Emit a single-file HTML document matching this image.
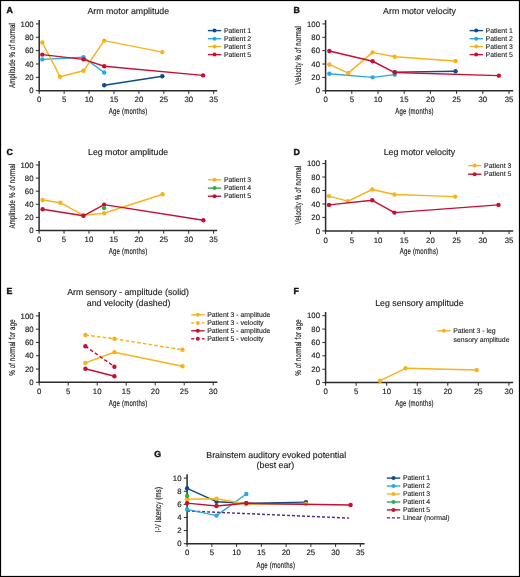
<!DOCTYPE html>
<html><head><meta charset="utf-8"><style>html,body{margin:0;padding:0;background:#fff;width:520px;height:577px;overflow:hidden;position:relative}</style></head>
<body>
<svg width="520" height="577" viewBox="0 0 520 577" style="position:absolute;left:0;top:0;will-change:transform">
<g style="font-family:&quot;Liberation Sans&quot;, sans-serif" text-rendering="geometricPrecision">
<rect x="0" y="0" width="520" height="577" fill="#fff"/>
<text x="6.6" y="13.2" font-size="8.8" text-anchor="start" font-weight="bold" fill="#111"  stroke="#111" stroke-width="0.4">A</text>
<text x="128.3" y="14" font-size="8.8" text-anchor="middle" font-weight="normal" fill="#1e1e1e"  stroke="#1e1e1e" stroke-width="0.15">Arm motor amplitude</text>
<line x1="39.2" y1="20.1" x2="39.2" y2="91.45" stroke="#2b2b2b" stroke-width="1.5"/>
<line x1="38.45" y1="90.7" x2="217.2" y2="90.7" stroke="#2b2b2b" stroke-width="1.5"/>
<line x1="35.900000000000006" y1="90.7" x2="39.2" y2="90.7" stroke="#2b2b2b" stroke-width="1"/>
<text x="33.6" y="93.3" font-size="7.8" text-anchor="end" font-weight="normal" fill="#1e1e1e"  stroke="#1e1e1e" stroke-width="0.15">0</text>
<line x1="35.900000000000006" y1="77.34" x2="39.2" y2="77.34" stroke="#2b2b2b" stroke-width="1"/>
<text x="33.6" y="79.94" font-size="7.8" text-anchor="end" font-weight="normal" fill="#1e1e1e"  stroke="#1e1e1e" stroke-width="0.15">20</text>
<line x1="35.900000000000006" y1="63.98" x2="39.2" y2="63.98" stroke="#2b2b2b" stroke-width="1"/>
<text x="33.6" y="66.58" font-size="7.8" text-anchor="end" font-weight="normal" fill="#1e1e1e"  stroke="#1e1e1e" stroke-width="0.15">40</text>
<line x1="35.900000000000006" y1="50.61999999999999" x2="39.2" y2="50.61999999999999" stroke="#2b2b2b" stroke-width="1"/>
<text x="33.6" y="53.21999999999999" font-size="7.8" text-anchor="end" font-weight="normal" fill="#1e1e1e"  stroke="#1e1e1e" stroke-width="0.15">60</text>
<line x1="35.900000000000006" y1="37.25999999999999" x2="39.2" y2="37.25999999999999" stroke="#2b2b2b" stroke-width="1"/>
<text x="33.6" y="39.85999999999999" font-size="7.8" text-anchor="end" font-weight="normal" fill="#1e1e1e"  stroke="#1e1e1e" stroke-width="0.15">80</text>
<line x1="35.900000000000006" y1="23.89999999999999" x2="39.2" y2="23.89999999999999" stroke="#2b2b2b" stroke-width="1"/>
<text x="33.6" y="26.499999999999993" font-size="7.8" text-anchor="end" font-weight="normal" fill="#1e1e1e"  stroke="#1e1e1e" stroke-width="0.15">100</text>
<line x1="39.2" y1="90.7" x2="39.2" y2="93.9" stroke="#2b2b2b" stroke-width="1"/>
<text x="39.2" y="102.4" font-size="7.8" text-anchor="middle" font-weight="normal" fill="#1e1e1e"  stroke="#1e1e1e" stroke-width="0.15">0</text>
<line x1="64.13" y1="90.7" x2="64.13" y2="93.9" stroke="#2b2b2b" stroke-width="1"/>
<text x="64.13" y="102.4" font-size="7.8" text-anchor="middle" font-weight="normal" fill="#1e1e1e"  stroke="#1e1e1e" stroke-width="0.15">5</text>
<line x1="89.06" y1="90.7" x2="89.06" y2="93.9" stroke="#2b2b2b" stroke-width="1"/>
<text x="89.06" y="102.4" font-size="7.8" text-anchor="middle" font-weight="normal" fill="#1e1e1e"  stroke="#1e1e1e" stroke-width="0.15">10</text>
<line x1="113.99" y1="90.7" x2="113.99" y2="93.9" stroke="#2b2b2b" stroke-width="1"/>
<text x="113.99" y="102.4" font-size="7.8" text-anchor="middle" font-weight="normal" fill="#1e1e1e"  stroke="#1e1e1e" stroke-width="0.15">15</text>
<line x1="138.92000000000002" y1="90.7" x2="138.92000000000002" y2="93.9" stroke="#2b2b2b" stroke-width="1"/>
<text x="138.92000000000002" y="102.4" font-size="7.8" text-anchor="middle" font-weight="normal" fill="#1e1e1e"  stroke="#1e1e1e" stroke-width="0.15">20</text>
<line x1="163.85000000000002" y1="90.7" x2="163.85000000000002" y2="93.9" stroke="#2b2b2b" stroke-width="1"/>
<text x="163.85000000000002" y="102.4" font-size="7.8" text-anchor="middle" font-weight="normal" fill="#1e1e1e"  stroke="#1e1e1e" stroke-width="0.15">25</text>
<line x1="188.77999999999997" y1="90.7" x2="188.77999999999997" y2="93.9" stroke="#2b2b2b" stroke-width="1"/>
<text x="188.77999999999997" y="102.4" font-size="7.8" text-anchor="middle" font-weight="normal" fill="#1e1e1e"  stroke="#1e1e1e" stroke-width="0.15">30</text>
<line x1="213.70999999999998" y1="90.7" x2="213.70999999999998" y2="93.9" stroke="#2b2b2b" stroke-width="1"/>
<text x="213.70999999999998" y="102.4" font-size="7.8" text-anchor="middle" font-weight="normal" fill="#1e1e1e"  stroke="#1e1e1e" stroke-width="0.15">35</text>
<text transform="translate(14.5,55.45) rotate(-90) scale(0.7,1)" x="0" y="0" font-size="8.6" letter-spacing="0.3" text-anchor="middle" fill="#1e1e1e" stroke="#1e1e1e" stroke-width="0.18">Amplitude % of normal</text>
<text transform="translate(128.15,114.3) scale(0.7,1)" x="0" y="0" font-size="8.6" letter-spacing="0.3" text-anchor="middle" fill="#1e1e1e" stroke="#1e1e1e" stroke-width="0.18">Age (months)</text>
<g transform="translate(0,0.4)">
<polyline points="104.2,84.8 162.3,75.8" fill="none" stroke="#0f4c86" stroke-width="1.45" stroke-linejoin="round"/>
<circle cx="104.2" cy="84.8" r="2.2" fill="#0f4c86"/>
<circle cx="162.3" cy="75.8" r="2.2" fill="#0f4c86"/>
<polyline points="42.3,59 83.5,56.9 104.2,72.1" fill="none" stroke="#2aa9e0" stroke-width="1.45" stroke-linejoin="round"/>
<circle cx="42.3" cy="59" r="2.2" fill="#2aa9e0"/>
<circle cx="83.5" cy="56.9" r="2.2" fill="#2aa9e0"/>
<circle cx="104.2" cy="72.1" r="2.2" fill="#2aa9e0"/>
<polyline points="42.3,42.1 60,76.3 83.5,70.4 104.2,40.2 162.3,51.7" fill="none" stroke="#f8b31b" stroke-width="1.45" stroke-linejoin="round"/>
<circle cx="42.3" cy="42.1" r="2.2" fill="#f8b31b"/>
<circle cx="60" cy="76.3" r="2.2" fill="#f8b31b"/>
<circle cx="83.5" cy="70.4" r="2.2" fill="#f8b31b"/>
<circle cx="104.2" cy="40.2" r="2.2" fill="#f8b31b"/>
<circle cx="162.3" cy="51.7" r="2.2" fill="#f8b31b"/>
<polyline points="42.3,54.2 83.5,59 104.2,65.8 203.1,75" fill="none" stroke="#c70f33" stroke-width="1.45" stroke-linejoin="round"/>
<circle cx="42.3" cy="54.2" r="2.2" fill="#c70f33"/>
<circle cx="83.5" cy="59" r="2.2" fill="#c70f33"/>
<circle cx="104.2" cy="65.8" r="2.2" fill="#c70f33"/>
<circle cx="203.1" cy="75" r="2.2" fill="#c70f33"/>
</g>
<line x1="207.9" y1="30.6" x2="221.20000000000002" y2="30.6" stroke="#0f4c86" stroke-width="1.4"/>
<circle cx="214.5" cy="30.6" r="2.0" fill="#0f4c86"/>
<text x="223.9" y="32.75" font-size="6.9" text-anchor="start" font-weight="normal" fill="#1e1e1e"  stroke="#1e1e1e" stroke-width="0.12">Patient 1</text>
<line x1="207.9" y1="38.7" x2="221.20000000000002" y2="38.7" stroke="#2aa9e0" stroke-width="1.4"/>
<circle cx="214.5" cy="38.7" r="2.0" fill="#2aa9e0"/>
<text x="223.9" y="40.85" font-size="6.9" text-anchor="start" font-weight="normal" fill="#1e1e1e"  stroke="#1e1e1e" stroke-width="0.12">Patient 2</text>
<line x1="207.9" y1="46.5" x2="221.20000000000002" y2="46.5" stroke="#f8b31b" stroke-width="1.4"/>
<circle cx="214.5" cy="46.5" r="2.0" fill="#f8b31b"/>
<text x="223.9" y="48.65" font-size="6.9" text-anchor="start" font-weight="normal" fill="#1e1e1e"  stroke="#1e1e1e" stroke-width="0.12">Patient 3</text>
<line x1="207.9" y1="54.6" x2="221.20000000000002" y2="54.6" stroke="#c70f33" stroke-width="1.4"/>
<circle cx="214.5" cy="54.6" r="2.0" fill="#c70f33"/>
<text x="223.9" y="56.75" font-size="6.9" text-anchor="start" font-weight="normal" fill="#1e1e1e"  stroke="#1e1e1e" stroke-width="0.12">Patient 5</text>
<text x="293.5" y="13.2" font-size="8.8" text-anchor="start" font-weight="bold" fill="#111"  stroke="#111" stroke-width="0.4">B</text>
<text x="419.5" y="14" font-size="8.8" text-anchor="middle" font-weight="normal" fill="#1e1e1e"  stroke="#1e1e1e" stroke-width="0.15">Arm motor velocity</text>
<line x1="325.6" y1="20.1" x2="325.6" y2="91.5" stroke="#2b2b2b" stroke-width="1.5"/>
<line x1="324.85" y1="90.75" x2="513.2" y2="90.75" stroke="#2b2b2b" stroke-width="1.5"/>
<line x1="322.3" y1="90.75" x2="325.6" y2="90.75" stroke="#2b2b2b" stroke-width="1"/>
<text x="320.0" y="93.35" font-size="7.8" text-anchor="end" font-weight="normal" fill="#1e1e1e"  stroke="#1e1e1e" stroke-width="0.15">0</text>
<line x1="322.3" y1="77.38" x2="325.6" y2="77.38" stroke="#2b2b2b" stroke-width="1"/>
<text x="320.0" y="79.97999999999999" font-size="7.8" text-anchor="end" font-weight="normal" fill="#1e1e1e"  stroke="#1e1e1e" stroke-width="0.15">20</text>
<line x1="322.3" y1="64.01" x2="325.6" y2="64.01" stroke="#2b2b2b" stroke-width="1"/>
<text x="320.0" y="66.61" font-size="7.8" text-anchor="end" font-weight="normal" fill="#1e1e1e"  stroke="#1e1e1e" stroke-width="0.15">40</text>
<line x1="322.3" y1="50.64000000000001" x2="325.6" y2="50.64000000000001" stroke="#2b2b2b" stroke-width="1"/>
<text x="320.0" y="53.24000000000001" font-size="7.8" text-anchor="end" font-weight="normal" fill="#1e1e1e"  stroke="#1e1e1e" stroke-width="0.15">60</text>
<line x1="322.3" y1="37.27" x2="325.6" y2="37.27" stroke="#2b2b2b" stroke-width="1"/>
<text x="320.0" y="39.870000000000005" font-size="7.8" text-anchor="end" font-weight="normal" fill="#1e1e1e"  stroke="#1e1e1e" stroke-width="0.15">80</text>
<line x1="322.3" y1="23.900000000000006" x2="325.6" y2="23.900000000000006" stroke="#2b2b2b" stroke-width="1"/>
<text x="320.0" y="26.500000000000007" font-size="7.8" text-anchor="end" font-weight="normal" fill="#1e1e1e"  stroke="#1e1e1e" stroke-width="0.15">100</text>
<line x1="325.6" y1="90.75" x2="325.6" y2="93.95" stroke="#2b2b2b" stroke-width="1"/>
<text x="325.6" y="102.45" font-size="7.8" text-anchor="middle" font-weight="normal" fill="#1e1e1e"  stroke="#1e1e1e" stroke-width="0.15">0</text>
<line x1="351.8" y1="90.75" x2="351.8" y2="93.95" stroke="#2b2b2b" stroke-width="1"/>
<text x="351.8" y="102.45" font-size="7.8" text-anchor="middle" font-weight="normal" fill="#1e1e1e"  stroke="#1e1e1e" stroke-width="0.15">5</text>
<line x1="378.0" y1="90.75" x2="378.0" y2="93.95" stroke="#2b2b2b" stroke-width="1"/>
<text x="378.0" y="102.45" font-size="7.8" text-anchor="middle" font-weight="normal" fill="#1e1e1e"  stroke="#1e1e1e" stroke-width="0.15">10</text>
<line x1="404.20000000000005" y1="90.75" x2="404.20000000000005" y2="93.95" stroke="#2b2b2b" stroke-width="1"/>
<text x="404.20000000000005" y="102.45" font-size="7.8" text-anchor="middle" font-weight="normal" fill="#1e1e1e"  stroke="#1e1e1e" stroke-width="0.15">15</text>
<line x1="430.40000000000003" y1="90.75" x2="430.40000000000003" y2="93.95" stroke="#2b2b2b" stroke-width="1"/>
<text x="430.40000000000003" y="102.45" font-size="7.8" text-anchor="middle" font-weight="normal" fill="#1e1e1e"  stroke="#1e1e1e" stroke-width="0.15">20</text>
<line x1="456.6" y1="90.75" x2="456.6" y2="93.95" stroke="#2b2b2b" stroke-width="1"/>
<text x="456.6" y="102.45" font-size="7.8" text-anchor="middle" font-weight="normal" fill="#1e1e1e"  stroke="#1e1e1e" stroke-width="0.15">25</text>
<line x1="482.8" y1="90.75" x2="482.8" y2="93.95" stroke="#2b2b2b" stroke-width="1"/>
<text x="482.8" y="102.45" font-size="7.8" text-anchor="middle" font-weight="normal" fill="#1e1e1e"  stroke="#1e1e1e" stroke-width="0.15">30</text>
<line x1="509.0" y1="90.75" x2="509.0" y2="93.95" stroke="#2b2b2b" stroke-width="1"/>
<text x="509.0" y="102.45" font-size="7.8" text-anchor="middle" font-weight="normal" fill="#1e1e1e"  stroke="#1e1e1e" stroke-width="0.15">35</text>
<text transform="translate(300.7,55.35) rotate(-90) scale(0.7,1)" x="0" y="0" font-size="8.6" letter-spacing="0.3" text-anchor="middle" fill="#1e1e1e" stroke="#1e1e1e" stroke-width="0.18">Velocity % of normal</text>
<text transform="translate(414.5,114.3) scale(0.7,1)" x="0" y="0" font-size="8.6" letter-spacing="0.3" text-anchor="middle" fill="#1e1e1e" stroke="#1e1e1e" stroke-width="0.18">Age (months)</text>
<g transform="translate(0.35,0.25)">
<polyline points="394.4,71.9 455.2,71" fill="none" stroke="#0f4c86" stroke-width="1.45" stroke-linejoin="round"/>
<circle cx="394.4" cy="71.9" r="2.2" fill="#0f4c86"/>
<circle cx="455.2" cy="71" r="2.2" fill="#0f4c86"/>
<polyline points="329,73.5 372.3,77.1 394.4,74.4" fill="none" stroke="#2aa9e0" stroke-width="1.45" stroke-linejoin="round"/>
<circle cx="329" cy="73.5" r="2.2" fill="#2aa9e0"/>
<circle cx="372.3" cy="77.1" r="2.2" fill="#2aa9e0"/>
<circle cx="394.4" cy="74.4" r="2.2" fill="#2aa9e0"/>
<polyline points="329,64.2 347.9,72.9 372.3,52.1 394.4,56.5 455.2,60.8" fill="none" stroke="#f8b31b" stroke-width="1.45" stroke-linejoin="round"/>
<circle cx="329" cy="64.2" r="2.2" fill="#f8b31b"/>
<circle cx="347.9" cy="72.9" r="2.2" fill="#f8b31b"/>
<circle cx="372.3" cy="52.1" r="2.2" fill="#f8b31b"/>
<circle cx="394.4" cy="56.5" r="2.2" fill="#f8b31b"/>
<circle cx="455.2" cy="60.8" r="2.2" fill="#f8b31b"/>
<polyline points="329,50.8 372.3,61 394.4,72.3 498.5,75.4" fill="none" stroke="#c70f33" stroke-width="1.45" stroke-linejoin="round"/>
<circle cx="329" cy="50.8" r="2.2" fill="#c70f33"/>
<circle cx="372.3" cy="61" r="2.2" fill="#c70f33"/>
<circle cx="394.4" cy="72.3" r="2.2" fill="#c70f33"/>
<circle cx="498.5" cy="75.4" r="2.2" fill="#c70f33"/>
</g>
<line x1="469.6" y1="30.6" x2="482.90000000000003" y2="30.6" stroke="#0f4c86" stroke-width="1.4"/>
<circle cx="476.20000000000005" cy="30.6" r="2.0" fill="#0f4c86"/>
<text x="485.6" y="32.75" font-size="6.9" text-anchor="start" font-weight="normal" fill="#1e1e1e"  stroke="#1e1e1e" stroke-width="0.12">Patient 1</text>
<line x1="469.6" y1="38.7" x2="482.90000000000003" y2="38.7" stroke="#2aa9e0" stroke-width="1.4"/>
<circle cx="476.20000000000005" cy="38.7" r="2.0" fill="#2aa9e0"/>
<text x="485.6" y="40.85" font-size="6.9" text-anchor="start" font-weight="normal" fill="#1e1e1e"  stroke="#1e1e1e" stroke-width="0.12">Patient 2</text>
<line x1="469.6" y1="46.5" x2="482.90000000000003" y2="46.5" stroke="#f8b31b" stroke-width="1.4"/>
<circle cx="476.20000000000005" cy="46.5" r="2.0" fill="#f8b31b"/>
<text x="485.6" y="48.65" font-size="6.9" text-anchor="start" font-weight="normal" fill="#1e1e1e"  stroke="#1e1e1e" stroke-width="0.12">Patient 3</text>
<line x1="469.6" y1="54.6" x2="482.90000000000003" y2="54.6" stroke="#c70f33" stroke-width="1.4"/>
<circle cx="476.20000000000005" cy="54.6" r="2.0" fill="#c70f33"/>
<text x="485.6" y="56.75" font-size="6.9" text-anchor="start" font-weight="normal" fill="#1e1e1e"  stroke="#1e1e1e" stroke-width="0.12">Patient 5</text>
<text x="6.6" y="155" font-size="8.8" text-anchor="start" font-weight="bold" fill="#111"  stroke="#111" stroke-width="0.4">C</text>
<text x="128.1" y="155" font-size="8.8" text-anchor="middle" font-weight="normal" fill="#1e1e1e"  stroke="#1e1e1e" stroke-width="0.15">Leg motor amplitude</text>
<line x1="39.1" y1="161" x2="39.1" y2="231.25" stroke="#2b2b2b" stroke-width="1.5"/>
<line x1="38.35" y1="230.5" x2="217.2" y2="230.5" stroke="#2b2b2b" stroke-width="1.5"/>
<line x1="35.800000000000004" y1="230.5" x2="39.1" y2="230.5" stroke="#2b2b2b" stroke-width="1"/>
<text x="33.5" y="233.1" font-size="7.8" text-anchor="end" font-weight="normal" fill="#1e1e1e"  stroke="#1e1e1e" stroke-width="0.15">0</text>
<line x1="35.800000000000004" y1="217.4" x2="39.1" y2="217.4" stroke="#2b2b2b" stroke-width="1"/>
<text x="33.5" y="220.0" font-size="7.8" text-anchor="end" font-weight="normal" fill="#1e1e1e"  stroke="#1e1e1e" stroke-width="0.15">20</text>
<line x1="35.800000000000004" y1="204.3" x2="39.1" y2="204.3" stroke="#2b2b2b" stroke-width="1"/>
<text x="33.5" y="206.9" font-size="7.8" text-anchor="end" font-weight="normal" fill="#1e1e1e"  stroke="#1e1e1e" stroke-width="0.15">40</text>
<line x1="35.800000000000004" y1="191.2" x2="39.1" y2="191.2" stroke="#2b2b2b" stroke-width="1"/>
<text x="33.5" y="193.79999999999998" font-size="7.8" text-anchor="end" font-weight="normal" fill="#1e1e1e"  stroke="#1e1e1e" stroke-width="0.15">60</text>
<line x1="35.800000000000004" y1="178.1" x2="39.1" y2="178.1" stroke="#2b2b2b" stroke-width="1"/>
<text x="33.5" y="180.7" font-size="7.8" text-anchor="end" font-weight="normal" fill="#1e1e1e"  stroke="#1e1e1e" stroke-width="0.15">80</text>
<line x1="35.800000000000004" y1="165.0" x2="39.1" y2="165.0" stroke="#2b2b2b" stroke-width="1"/>
<text x="33.5" y="167.6" font-size="7.8" text-anchor="end" font-weight="normal" fill="#1e1e1e"  stroke="#1e1e1e" stroke-width="0.15">100</text>
<line x1="39.1" y1="230.5" x2="39.1" y2="233.7" stroke="#2b2b2b" stroke-width="1"/>
<text x="39.1" y="242.2" font-size="7.8" text-anchor="middle" font-weight="normal" fill="#1e1e1e"  stroke="#1e1e1e" stroke-width="0.15">0</text>
<line x1="64.03" y1="230.5" x2="64.03" y2="233.7" stroke="#2b2b2b" stroke-width="1"/>
<text x="64.03" y="242.2" font-size="7.8" text-anchor="middle" font-weight="normal" fill="#1e1e1e"  stroke="#1e1e1e" stroke-width="0.15">5</text>
<line x1="88.96000000000001" y1="230.5" x2="88.96000000000001" y2="233.7" stroke="#2b2b2b" stroke-width="1"/>
<text x="88.96000000000001" y="242.2" font-size="7.8" text-anchor="middle" font-weight="normal" fill="#1e1e1e"  stroke="#1e1e1e" stroke-width="0.15">10</text>
<line x1="113.88999999999999" y1="230.5" x2="113.88999999999999" y2="233.7" stroke="#2b2b2b" stroke-width="1"/>
<text x="113.88999999999999" y="242.2" font-size="7.8" text-anchor="middle" font-weight="normal" fill="#1e1e1e"  stroke="#1e1e1e" stroke-width="0.15">15</text>
<line x1="138.82" y1="230.5" x2="138.82" y2="233.7" stroke="#2b2b2b" stroke-width="1"/>
<text x="138.82" y="242.2" font-size="7.8" text-anchor="middle" font-weight="normal" fill="#1e1e1e"  stroke="#1e1e1e" stroke-width="0.15">20</text>
<line x1="163.75" y1="230.5" x2="163.75" y2="233.7" stroke="#2b2b2b" stroke-width="1"/>
<text x="163.75" y="242.2" font-size="7.8" text-anchor="middle" font-weight="normal" fill="#1e1e1e"  stroke="#1e1e1e" stroke-width="0.15">25</text>
<line x1="188.67999999999998" y1="230.5" x2="188.67999999999998" y2="233.7" stroke="#2b2b2b" stroke-width="1"/>
<text x="188.67999999999998" y="242.2" font-size="7.8" text-anchor="middle" font-weight="normal" fill="#1e1e1e"  stroke="#1e1e1e" stroke-width="0.15">30</text>
<line x1="213.60999999999999" y1="230.5" x2="213.60999999999999" y2="233.7" stroke="#2b2b2b" stroke-width="1"/>
<text x="213.60999999999999" y="242.2" font-size="7.8" text-anchor="middle" font-weight="normal" fill="#1e1e1e"  stroke="#1e1e1e" stroke-width="0.15">35</text>
<text transform="translate(14.5,196.05) rotate(-90) scale(0.7,1)" x="0" y="0" font-size="8.6" letter-spacing="0.3" text-anchor="middle" fill="#1e1e1e" stroke="#1e1e1e" stroke-width="0.18">Amplitude % of normal</text>
<text transform="translate(128.15,254.3) scale(0.7,1)" x="0" y="0" font-size="8.6" letter-spacing="0.3" text-anchor="middle" fill="#1e1e1e" stroke="#1e1e1e" stroke-width="0.18">Age (months)</text>
<g transform="translate(0.3,0)">
<polyline points="42.3,200 60,202.7 83.1,215.4 103.8,213.3 162.3,194.2" fill="none" stroke="#f8b31b" stroke-width="1.45" stroke-linejoin="round"/>
<circle cx="42.3" cy="200" r="2.2" fill="#f8b31b"/>
<circle cx="60" cy="202.7" r="2.2" fill="#f8b31b"/>
<circle cx="83.1" cy="215.4" r="2.2" fill="#f8b31b"/>
<circle cx="103.8" cy="213.3" r="2.2" fill="#f8b31b"/>
<circle cx="162.3" cy="194.2" r="2.2" fill="#f8b31b"/>
<polyline points="42.3,209.2 83.1,215.8 103.8,204.6 203.1,220.2" fill="none" stroke="#c70f33" stroke-width="1.45" stroke-linejoin="round"/>
<circle cx="42.3" cy="209.2" r="2.2" fill="#c70f33"/>
<circle cx="83.1" cy="215.8" r="2.2" fill="#c70f33"/>
<circle cx="103.8" cy="204.6" r="2.2" fill="#c70f33"/>
<circle cx="203.1" cy="220.2" r="2.2" fill="#c70f33"/>
<circle cx="103.8" cy="208.1" r="2.2" fill="#2bb04a"/>
</g>
<line x1="207.9" y1="179.8" x2="221.20000000000002" y2="179.8" stroke="#f8b31b" stroke-width="1.4"/>
<circle cx="214.5" cy="179.8" r="2.0" fill="#f8b31b"/>
<text x="223.9" y="181.95000000000002" font-size="6.9" text-anchor="start" font-weight="normal" fill="#1e1e1e"  stroke="#1e1e1e" stroke-width="0.12">Patient 3</text>
<line x1="207.9" y1="188.1" x2="221.20000000000002" y2="188.1" stroke="#2bb04a" stroke-width="1.4"/>
<circle cx="214.5" cy="188.1" r="2.0" fill="#2bb04a"/>
<text x="223.9" y="190.25" font-size="6.9" text-anchor="start" font-weight="normal" fill="#1e1e1e"  stroke="#1e1e1e" stroke-width="0.12">Patient 4</text>
<line x1="207.9" y1="196.2" x2="221.20000000000002" y2="196.2" stroke="#c70f33" stroke-width="1.4"/>
<circle cx="214.5" cy="196.2" r="2.0" fill="#c70f33"/>
<text x="223.9" y="198.35" font-size="6.9" text-anchor="start" font-weight="normal" fill="#1e1e1e"  stroke="#1e1e1e" stroke-width="0.12">Patient 5</text>
<text x="293.5" y="155" font-size="8.8" text-anchor="start" font-weight="bold" fill="#111"  stroke="#111" stroke-width="0.4">D</text>
<text x="419.4" y="155" font-size="8.8" text-anchor="middle" font-weight="normal" fill="#1e1e1e"  stroke="#1e1e1e" stroke-width="0.15">Leg motor velocity</text>
<line x1="325.6" y1="160" x2="325.6" y2="231.65" stroke="#2b2b2b" stroke-width="1.5"/>
<line x1="324.85" y1="230.9" x2="513.2" y2="230.9" stroke="#2b2b2b" stroke-width="1.5"/>
<line x1="322.3" y1="230.9" x2="325.6" y2="230.9" stroke="#2b2b2b" stroke-width="1"/>
<text x="320.0" y="233.5" font-size="7.8" text-anchor="end" font-weight="normal" fill="#1e1e1e"  stroke="#1e1e1e" stroke-width="0.15">0</text>
<line x1="322.3" y1="217.44" x2="325.6" y2="217.44" stroke="#2b2b2b" stroke-width="1"/>
<text x="320.0" y="220.04" font-size="7.8" text-anchor="end" font-weight="normal" fill="#1e1e1e"  stroke="#1e1e1e" stroke-width="0.15">20</text>
<line x1="322.3" y1="203.98" x2="325.6" y2="203.98" stroke="#2b2b2b" stroke-width="1"/>
<text x="320.0" y="206.57999999999998" font-size="7.8" text-anchor="end" font-weight="normal" fill="#1e1e1e"  stroke="#1e1e1e" stroke-width="0.15">40</text>
<line x1="322.3" y1="190.51999999999998" x2="325.6" y2="190.51999999999998" stroke="#2b2b2b" stroke-width="1"/>
<text x="320.0" y="193.11999999999998" font-size="7.8" text-anchor="end" font-weight="normal" fill="#1e1e1e"  stroke="#1e1e1e" stroke-width="0.15">60</text>
<line x1="322.3" y1="177.06" x2="325.6" y2="177.06" stroke="#2b2b2b" stroke-width="1"/>
<text x="320.0" y="179.66" font-size="7.8" text-anchor="end" font-weight="normal" fill="#1e1e1e"  stroke="#1e1e1e" stroke-width="0.15">80</text>
<line x1="322.3" y1="163.6" x2="325.6" y2="163.6" stroke="#2b2b2b" stroke-width="1"/>
<text x="320.0" y="166.2" font-size="7.8" text-anchor="end" font-weight="normal" fill="#1e1e1e"  stroke="#1e1e1e" stroke-width="0.15">100</text>
<line x1="325.6" y1="230.9" x2="325.6" y2="234.1" stroke="#2b2b2b" stroke-width="1"/>
<text x="325.6" y="242.6" font-size="7.8" text-anchor="middle" font-weight="normal" fill="#1e1e1e"  stroke="#1e1e1e" stroke-width="0.15">0</text>
<line x1="351.8" y1="230.9" x2="351.8" y2="234.1" stroke="#2b2b2b" stroke-width="1"/>
<text x="351.8" y="242.6" font-size="7.8" text-anchor="middle" font-weight="normal" fill="#1e1e1e"  stroke="#1e1e1e" stroke-width="0.15">5</text>
<line x1="378.0" y1="230.9" x2="378.0" y2="234.1" stroke="#2b2b2b" stroke-width="1"/>
<text x="378.0" y="242.6" font-size="7.8" text-anchor="middle" font-weight="normal" fill="#1e1e1e"  stroke="#1e1e1e" stroke-width="0.15">10</text>
<line x1="404.20000000000005" y1="230.9" x2="404.20000000000005" y2="234.1" stroke="#2b2b2b" stroke-width="1"/>
<text x="404.20000000000005" y="242.6" font-size="7.8" text-anchor="middle" font-weight="normal" fill="#1e1e1e"  stroke="#1e1e1e" stroke-width="0.15">15</text>
<line x1="430.40000000000003" y1="230.9" x2="430.40000000000003" y2="234.1" stroke="#2b2b2b" stroke-width="1"/>
<text x="430.40000000000003" y="242.6" font-size="7.8" text-anchor="middle" font-weight="normal" fill="#1e1e1e"  stroke="#1e1e1e" stroke-width="0.15">20</text>
<line x1="456.6" y1="230.9" x2="456.6" y2="234.1" stroke="#2b2b2b" stroke-width="1"/>
<text x="456.6" y="242.6" font-size="7.8" text-anchor="middle" font-weight="normal" fill="#1e1e1e"  stroke="#1e1e1e" stroke-width="0.15">25</text>
<line x1="482.8" y1="230.9" x2="482.8" y2="234.1" stroke="#2b2b2b" stroke-width="1"/>
<text x="482.8" y="242.6" font-size="7.8" text-anchor="middle" font-weight="normal" fill="#1e1e1e"  stroke="#1e1e1e" stroke-width="0.15">30</text>
<line x1="509.0" y1="230.9" x2="509.0" y2="234.1" stroke="#2b2b2b" stroke-width="1"/>
<text x="509.0" y="242.6" font-size="7.8" text-anchor="middle" font-weight="normal" fill="#1e1e1e"  stroke="#1e1e1e" stroke-width="0.15">35</text>
<text transform="translate(300.7,195.1) rotate(-90) scale(0.7,1)" x="0" y="0" font-size="8.6" letter-spacing="0.3" text-anchor="middle" fill="#1e1e1e" stroke="#1e1e1e" stroke-width="0.18">Velocity % of normal</text>
<text transform="translate(419,254.3) scale(0.7,1)" x="0" y="0" font-size="8.6" letter-spacing="0.3" text-anchor="middle" fill="#1e1e1e" stroke="#1e1e1e" stroke-width="0.18">Age (months)</text>
<g transform="translate(0,0.3)">
<polyline points="329,195.8 347.9,200.8 372.3,189.2 394.4,194.2 455.2,196.3" fill="none" stroke="#f8b31b" stroke-width="1.45" stroke-linejoin="round"/>
<circle cx="329" cy="195.8" r="2.2" fill="#f8b31b"/>
<circle cx="347.9" cy="200.8" r="2.2" fill="#f8b31b"/>
<circle cx="372.3" cy="189.2" r="2.2" fill="#f8b31b"/>
<circle cx="394.4" cy="194.2" r="2.2" fill="#f8b31b"/>
<circle cx="455.2" cy="196.3" r="2.2" fill="#f8b31b"/>
<polyline points="329,204.6 372.3,200 394.4,212.3 498.5,204.6" fill="none" stroke="#c70f33" stroke-width="1.45" stroke-linejoin="round"/>
<circle cx="329" cy="204.6" r="2.2" fill="#c70f33"/>
<circle cx="372.3" cy="200" r="2.2" fill="#c70f33"/>
<circle cx="394.4" cy="212.3" r="2.2" fill="#c70f33"/>
<circle cx="498.5" cy="204.6" r="2.2" fill="#c70f33"/>
</g>
<line x1="468.1" y1="165.6" x2="481.40000000000003" y2="165.6" stroke="#f8b31b" stroke-width="1.4"/>
<circle cx="474.70000000000005" cy="165.6" r="2.0" fill="#f8b31b"/>
<text x="484.1" y="167.75" font-size="6.9" text-anchor="start" font-weight="normal" fill="#1e1e1e"  stroke="#1e1e1e" stroke-width="0.12">Patient 3</text>
<line x1="468.1" y1="174.2" x2="481.40000000000003" y2="174.2" stroke="#c70f33" stroke-width="1.4"/>
<circle cx="474.70000000000005" cy="174.2" r="2.0" fill="#c70f33"/>
<text x="484.1" y="176.35" font-size="6.9" text-anchor="start" font-weight="normal" fill="#1e1e1e"  stroke="#1e1e1e" stroke-width="0.12">Patient 5</text>
<text x="6.6" y="294" font-size="8.8" text-anchor="start" font-weight="bold" fill="#111"  stroke="#111" stroke-width="0.4">E</text>
<text x="128.1" y="294.9" font-size="8.8" text-anchor="middle" font-weight="normal" fill="#1e1e1e"  stroke="#1e1e1e" stroke-width="0.15">Arm sensory - amplitude (solid)</text>
<text x="128.6" y="305.7" font-size="8.8" text-anchor="middle" font-weight="normal" fill="#1e1e1e"  stroke="#1e1e1e" stroke-width="0.15">and velocity (dashed)</text>
<line x1="39.2" y1="312" x2="39.2" y2="383.05" stroke="#2b2b2b" stroke-width="1.5"/>
<line x1="38.45" y1="382.3" x2="217.4" y2="382.3" stroke="#2b2b2b" stroke-width="1.5"/>
<line x1="35.900000000000006" y1="382.3" x2="39.2" y2="382.3" stroke="#2b2b2b" stroke-width="1"/>
<text x="33.6" y="384.90000000000003" font-size="7.8" text-anchor="end" font-weight="normal" fill="#1e1e1e"  stroke="#1e1e1e" stroke-width="0.15">0</text>
<line x1="35.900000000000006" y1="369.02" x2="39.2" y2="369.02" stroke="#2b2b2b" stroke-width="1"/>
<text x="33.6" y="371.62" font-size="7.8" text-anchor="end" font-weight="normal" fill="#1e1e1e"  stroke="#1e1e1e" stroke-width="0.15">20</text>
<line x1="35.900000000000006" y1="355.74" x2="39.2" y2="355.74" stroke="#2b2b2b" stroke-width="1"/>
<text x="33.6" y="358.34000000000003" font-size="7.8" text-anchor="end" font-weight="normal" fill="#1e1e1e"  stroke="#1e1e1e" stroke-width="0.15">40</text>
<line x1="35.900000000000006" y1="342.46" x2="39.2" y2="342.46" stroke="#2b2b2b" stroke-width="1"/>
<text x="33.6" y="345.06" font-size="7.8" text-anchor="end" font-weight="normal" fill="#1e1e1e"  stroke="#1e1e1e" stroke-width="0.15">60</text>
<line x1="35.900000000000006" y1="329.18" x2="39.2" y2="329.18" stroke="#2b2b2b" stroke-width="1"/>
<text x="33.6" y="331.78000000000003" font-size="7.8" text-anchor="end" font-weight="normal" fill="#1e1e1e"  stroke="#1e1e1e" stroke-width="0.15">80</text>
<line x1="35.900000000000006" y1="315.9" x2="39.2" y2="315.9" stroke="#2b2b2b" stroke-width="1"/>
<text x="33.6" y="318.5" font-size="7.8" text-anchor="end" font-weight="normal" fill="#1e1e1e"  stroke="#1e1e1e" stroke-width="0.15">100</text>
<line x1="39.2" y1="382.3" x2="39.2" y2="385.5" stroke="#2b2b2b" stroke-width="1"/>
<text x="39.2" y="394.0" font-size="7.8" text-anchor="middle" font-weight="normal" fill="#1e1e1e"  stroke="#1e1e1e" stroke-width="0.15">0</text>
<line x1="68.2" y1="382.3" x2="68.2" y2="385.5" stroke="#2b2b2b" stroke-width="1"/>
<text x="68.2" y="394.0" font-size="7.8" text-anchor="middle" font-weight="normal" fill="#1e1e1e"  stroke="#1e1e1e" stroke-width="0.15">5</text>
<line x1="97.2" y1="382.3" x2="97.2" y2="385.5" stroke="#2b2b2b" stroke-width="1"/>
<text x="97.2" y="394.0" font-size="7.8" text-anchor="middle" font-weight="normal" fill="#1e1e1e"  stroke="#1e1e1e" stroke-width="0.15">10</text>
<line x1="126.2" y1="382.3" x2="126.2" y2="385.5" stroke="#2b2b2b" stroke-width="1"/>
<text x="126.2" y="394.0" font-size="7.8" text-anchor="middle" font-weight="normal" fill="#1e1e1e"  stroke="#1e1e1e" stroke-width="0.15">15</text>
<line x1="155.2" y1="382.3" x2="155.2" y2="385.5" stroke="#2b2b2b" stroke-width="1"/>
<text x="155.2" y="394.0" font-size="7.8" text-anchor="middle" font-weight="normal" fill="#1e1e1e"  stroke="#1e1e1e" stroke-width="0.15">20</text>
<line x1="184.2" y1="382.3" x2="184.2" y2="385.5" stroke="#2b2b2b" stroke-width="1"/>
<text x="184.2" y="394.0" font-size="7.8" text-anchor="middle" font-weight="normal" fill="#1e1e1e"  stroke="#1e1e1e" stroke-width="0.15">25</text>
<line x1="213.2" y1="382.3" x2="213.2" y2="385.5" stroke="#2b2b2b" stroke-width="1"/>
<text x="213.2" y="394.0" font-size="7.8" text-anchor="middle" font-weight="normal" fill="#1e1e1e"  stroke="#1e1e1e" stroke-width="0.15">30</text>
<text transform="translate(14.5,347.5) rotate(-90) scale(0.7,1)" x="0" y="0" font-size="8.6" letter-spacing="0.3" text-anchor="middle" fill="#1e1e1e" stroke="#1e1e1e" stroke-width="0.18">% of normal for age</text>
<text transform="translate(128.15,406.3) scale(0.7,1)" x="0" y="0" font-size="8.6" letter-spacing="0.3" text-anchor="middle" fill="#1e1e1e" stroke="#1e1e1e" stroke-width="0.18">Age (months)</text>
<polyline points="85.4,335 114.4,338.8 182.5,349.8" fill="none" stroke="#f8b31b" stroke-width="1.45" stroke-linejoin="round" stroke-dasharray="3.6,2.2"/>
<circle cx="85.4" cy="335" r="2.2" fill="#f8b31b"/>
<circle cx="114.4" cy="338.8" r="2.2" fill="#f8b31b"/>
<circle cx="182.5" cy="349.8" r="2.2" fill="#f8b31b"/>
<polyline points="85.4,362.9 114.4,352.3 182.5,366.2" fill="none" stroke="#f8b31b" stroke-width="1.45" stroke-linejoin="round"/>
<circle cx="85.4" cy="362.9" r="2.2" fill="#f8b31b"/>
<circle cx="114.4" cy="352.3" r="2.2" fill="#f8b31b"/>
<circle cx="182.5" cy="366.2" r="2.2" fill="#f8b31b"/>
<polyline points="85.4,346.2 114.4,366.7" fill="none" stroke="#c70f33" stroke-width="1.45" stroke-linejoin="round" stroke-dasharray="3.6,2.2"/>
<circle cx="85.4" cy="346.2" r="2.2" fill="#c70f33"/>
<circle cx="114.4" cy="366.7" r="2.2" fill="#c70f33"/>
<polyline points="85.4,368.7 114.4,376.3" fill="none" stroke="#c70f33" stroke-width="1.45" stroke-linejoin="round"/>
<circle cx="85.4" cy="368.7" r="2.2" fill="#c70f33"/>
<circle cx="114.4" cy="376.3" r="2.2" fill="#c70f33"/>
<line x1="191.2" y1="314.8" x2="204.5" y2="314.8" stroke="#f8b31b" stroke-width="1.4"/>
<circle cx="197.79999999999998" cy="314.8" r="2.0" fill="#f8b31b"/>
<text x="207.2" y="316.95" font-size="6.9" text-anchor="start" font-weight="normal" fill="#1e1e1e"  stroke="#1e1e1e" stroke-width="0.12">Patient 3 - amplitude</text>
<line x1="191.2" y1="322.9" x2="194.29999999999998" y2="322.9" stroke="#f8b31b" stroke-width="1.4"/>
<line x1="201.89999999999998" y1="322.9" x2="204.5" y2="322.9" stroke="#f8b31b" stroke-width="1.4"/>
<circle cx="197.79999999999998" cy="322.9" r="2.0" fill="#f8b31b"/>
<text x="207.2" y="325.04999999999995" font-size="6.9" text-anchor="start" font-weight="normal" fill="#1e1e1e"  stroke="#1e1e1e" stroke-width="0.12">Patient 3 - velocity</text>
<line x1="191.2" y1="330.8" x2="204.5" y2="330.8" stroke="#c70f33" stroke-width="1.4"/>
<circle cx="197.79999999999998" cy="330.8" r="2.0" fill="#c70f33"/>
<text x="207.2" y="332.95" font-size="6.9" text-anchor="start" font-weight="normal" fill="#1e1e1e"  stroke="#1e1e1e" stroke-width="0.12">Patient 5 - amplitude</text>
<line x1="191.2" y1="338.8" x2="194.29999999999998" y2="338.8" stroke="#c70f33" stroke-width="1.4"/>
<line x1="201.89999999999998" y1="338.8" x2="204.5" y2="338.8" stroke="#c70f33" stroke-width="1.4"/>
<circle cx="197.79999999999998" cy="338.8" r="2.0" fill="#c70f33"/>
<text x="207.2" y="340.95" font-size="6.9" text-anchor="start" font-weight="normal" fill="#1e1e1e"  stroke="#1e1e1e" stroke-width="0.12">Patient 5 - velocity</text>
<text x="293.5" y="294" font-size="8.8" text-anchor="start" font-weight="bold" fill="#111"  stroke="#111" stroke-width="0.4">F</text>
<text x="419.4" y="305.7" font-size="8.8" text-anchor="middle" font-weight="normal" fill="#1e1e1e"  stroke="#1e1e1e" stroke-width="0.15">Leg sensory amplitude</text>
<line x1="325.6" y1="312" x2="325.6" y2="383.35" stroke="#2b2b2b" stroke-width="1.5"/>
<line x1="324.85" y1="382.6" x2="513.2" y2="382.6" stroke="#2b2b2b" stroke-width="1.5"/>
<line x1="322.3" y1="382.6" x2="325.6" y2="382.6" stroke="#2b2b2b" stroke-width="1"/>
<text x="320.0" y="385.20000000000005" font-size="7.8" text-anchor="end" font-weight="normal" fill="#1e1e1e"  stroke="#1e1e1e" stroke-width="0.15">0</text>
<line x1="322.3" y1="369.22" x2="325.6" y2="369.22" stroke="#2b2b2b" stroke-width="1"/>
<text x="320.0" y="371.82000000000005" font-size="7.8" text-anchor="end" font-weight="normal" fill="#1e1e1e"  stroke="#1e1e1e" stroke-width="0.15">20</text>
<line x1="322.3" y1="355.84000000000003" x2="325.6" y2="355.84000000000003" stroke="#2b2b2b" stroke-width="1"/>
<text x="320.0" y="358.44000000000005" font-size="7.8" text-anchor="end" font-weight="normal" fill="#1e1e1e"  stroke="#1e1e1e" stroke-width="0.15">40</text>
<line x1="322.3" y1="342.46000000000004" x2="325.6" y2="342.46000000000004" stroke="#2b2b2b" stroke-width="1"/>
<text x="320.0" y="345.06000000000006" font-size="7.8" text-anchor="end" font-weight="normal" fill="#1e1e1e"  stroke="#1e1e1e" stroke-width="0.15">60</text>
<line x1="322.3" y1="329.08" x2="325.6" y2="329.08" stroke="#2b2b2b" stroke-width="1"/>
<text x="320.0" y="331.68" font-size="7.8" text-anchor="end" font-weight="normal" fill="#1e1e1e"  stroke="#1e1e1e" stroke-width="0.15">80</text>
<line x1="322.3" y1="315.7" x2="325.6" y2="315.7" stroke="#2b2b2b" stroke-width="1"/>
<text x="320.0" y="318.3" font-size="7.8" text-anchor="end" font-weight="normal" fill="#1e1e1e"  stroke="#1e1e1e" stroke-width="0.15">100</text>
<line x1="325.6" y1="382.6" x2="325.6" y2="385.8" stroke="#2b2b2b" stroke-width="1"/>
<text x="325.6" y="394.3" font-size="7.8" text-anchor="middle" font-weight="normal" fill="#1e1e1e"  stroke="#1e1e1e" stroke-width="0.15">0</text>
<line x1="356.15000000000003" y1="382.6" x2="356.15000000000003" y2="385.8" stroke="#2b2b2b" stroke-width="1"/>
<text x="356.15000000000003" y="394.3" font-size="7.8" text-anchor="middle" font-weight="normal" fill="#1e1e1e"  stroke="#1e1e1e" stroke-width="0.15">5</text>
<line x1="386.70000000000005" y1="382.6" x2="386.70000000000005" y2="385.8" stroke="#2b2b2b" stroke-width="1"/>
<text x="386.70000000000005" y="394.3" font-size="7.8" text-anchor="middle" font-weight="normal" fill="#1e1e1e"  stroke="#1e1e1e" stroke-width="0.15">10</text>
<line x1="417.25" y1="382.6" x2="417.25" y2="385.8" stroke="#2b2b2b" stroke-width="1"/>
<text x="417.25" y="394.3" font-size="7.8" text-anchor="middle" font-weight="normal" fill="#1e1e1e"  stroke="#1e1e1e" stroke-width="0.15">15</text>
<line x1="447.8" y1="382.6" x2="447.8" y2="385.8" stroke="#2b2b2b" stroke-width="1"/>
<text x="447.8" y="394.3" font-size="7.8" text-anchor="middle" font-weight="normal" fill="#1e1e1e"  stroke="#1e1e1e" stroke-width="0.15">20</text>
<line x1="478.35" y1="382.6" x2="478.35" y2="385.8" stroke="#2b2b2b" stroke-width="1"/>
<text x="478.35" y="394.3" font-size="7.8" text-anchor="middle" font-weight="normal" fill="#1e1e1e"  stroke="#1e1e1e" stroke-width="0.15">25</text>
<line x1="508.90000000000003" y1="382.6" x2="508.90000000000003" y2="385.8" stroke="#2b2b2b" stroke-width="1"/>
<text x="508.90000000000003" y="394.3" font-size="7.8" text-anchor="middle" font-weight="normal" fill="#1e1e1e"  stroke="#1e1e1e" stroke-width="0.15">30</text>
<text transform="translate(300.7,347.5) rotate(-90) scale(0.7,1)" x="0" y="0" font-size="8.6" letter-spacing="0.3" text-anchor="middle" fill="#1e1e1e" stroke="#1e1e1e" stroke-width="0.18">% of normal for age</text>
<text transform="translate(414.5,406.3) scale(0.7,1)" x="0" y="0" font-size="8.6" letter-spacing="0.3" text-anchor="middle" fill="#1e1e1e" stroke="#1e1e1e" stroke-width="0.18">Age (months)</text>
<polyline points="380.1,380.7 405.5,368.3 476.7,370" fill="none" stroke="#f8b31b" stroke-width="1.45" stroke-linejoin="round"/>
<circle cx="380.1" cy="380.7" r="2.2" fill="#f8b31b"/>
<circle cx="405.5" cy="368.3" r="2.2" fill="#f8b31b"/>
<circle cx="476.7" cy="370" r="2.2" fill="#f8b31b"/>
<line x1="437.2" y1="330.8" x2="450.5" y2="330.8" stroke="#f8b31b" stroke-width="1.4"/>
<circle cx="443.8" cy="330.8" r="2.0" fill="#f8b31b"/>
<text x="453.2" y="332.95" font-size="6.9" text-anchor="start" font-weight="normal" fill="#1e1e1e"  stroke="#1e1e1e" stroke-width="0.12">Patient 3 - leg</text>
<text x="453.6" y="341.85" font-size="6.9" text-anchor="start" font-weight="normal" fill="#1e1e1e"  stroke="#1e1e1e" stroke-width="0.12">sensory amplitude</text>
<text x="154.3" y="457.3" font-size="8.8" text-anchor="start" font-weight="bold" fill="#111"  stroke="#111" stroke-width="0.4">G</text>
<text x="276.2" y="457.5" font-size="8.8" text-anchor="middle" font-weight="normal" fill="#1e1e1e"  stroke="#1e1e1e" stroke-width="0.15">Brainstem auditory evoked potential</text>
<text x="275.4" y="468.3" font-size="8.8" text-anchor="middle" font-weight="normal" fill="#1e1e1e"  stroke="#1e1e1e" stroke-width="0.15">(best ear)</text>
<line x1="187.1" y1="474.2" x2="187.1" y2="544.45" stroke="#2b2b2b" stroke-width="1.5"/>
<line x1="186.35" y1="543.7" x2="364.6" y2="543.7" stroke="#2b2b2b" stroke-width="1.5"/>
<line x1="183.79999999999998" y1="543.7" x2="187.1" y2="543.7" stroke="#2b2b2b" stroke-width="1"/>
<text x="181.5" y="546.3000000000001" font-size="7.8" text-anchor="end" font-weight="normal" fill="#1e1e1e"  stroke="#1e1e1e" stroke-width="0.15">0</text>
<line x1="183.79999999999998" y1="530.58" x2="187.1" y2="530.58" stroke="#2b2b2b" stroke-width="1"/>
<text x="181.5" y="533.1800000000001" font-size="7.8" text-anchor="end" font-weight="normal" fill="#1e1e1e"  stroke="#1e1e1e" stroke-width="0.15">2</text>
<line x1="183.79999999999998" y1="517.46" x2="187.1" y2="517.46" stroke="#2b2b2b" stroke-width="1"/>
<text x="181.5" y="520.0600000000001" font-size="7.8" text-anchor="end" font-weight="normal" fill="#1e1e1e"  stroke="#1e1e1e" stroke-width="0.15">4</text>
<line x1="183.79999999999998" y1="504.34000000000003" x2="187.1" y2="504.34000000000003" stroke="#2b2b2b" stroke-width="1"/>
<text x="181.5" y="506.94000000000005" font-size="7.8" text-anchor="end" font-weight="normal" fill="#1e1e1e"  stroke="#1e1e1e" stroke-width="0.15">6</text>
<line x1="183.79999999999998" y1="491.22" x2="187.1" y2="491.22" stroke="#2b2b2b" stroke-width="1"/>
<text x="181.5" y="493.82000000000005" font-size="7.8" text-anchor="end" font-weight="normal" fill="#1e1e1e"  stroke="#1e1e1e" stroke-width="0.15">8</text>
<line x1="183.79999999999998" y1="478.1" x2="187.1" y2="478.1" stroke="#2b2b2b" stroke-width="1"/>
<text x="181.5" y="480.70000000000005" font-size="7.8" text-anchor="end" font-weight="normal" fill="#1e1e1e"  stroke="#1e1e1e" stroke-width="0.15">10</text>
<line x1="187.1" y1="543.7" x2="187.1" y2="546.9000000000001" stroke="#2b2b2b" stroke-width="1"/>
<text x="187.1" y="555.4000000000001" font-size="7.8" text-anchor="middle" font-weight="normal" fill="#1e1e1e"  stroke="#1e1e1e" stroke-width="0.15">0</text>
<line x1="211.85" y1="543.7" x2="211.85" y2="546.9000000000001" stroke="#2b2b2b" stroke-width="1"/>
<text x="211.85" y="555.4000000000001" font-size="7.8" text-anchor="middle" font-weight="normal" fill="#1e1e1e"  stroke="#1e1e1e" stroke-width="0.15">5</text>
<line x1="236.6" y1="543.7" x2="236.6" y2="546.9000000000001" stroke="#2b2b2b" stroke-width="1"/>
<text x="236.6" y="555.4000000000001" font-size="7.8" text-anchor="middle" font-weight="normal" fill="#1e1e1e"  stroke="#1e1e1e" stroke-width="0.15">10</text>
<line x1="261.35" y1="543.7" x2="261.35" y2="546.9000000000001" stroke="#2b2b2b" stroke-width="1"/>
<text x="261.35" y="555.4000000000001" font-size="7.8" text-anchor="middle" font-weight="normal" fill="#1e1e1e"  stroke="#1e1e1e" stroke-width="0.15">15</text>
<line x1="286.1" y1="543.7" x2="286.1" y2="546.9000000000001" stroke="#2b2b2b" stroke-width="1"/>
<text x="286.1" y="555.4000000000001" font-size="7.8" text-anchor="middle" font-weight="normal" fill="#1e1e1e"  stroke="#1e1e1e" stroke-width="0.15">20</text>
<line x1="310.85" y1="543.7" x2="310.85" y2="546.9000000000001" stroke="#2b2b2b" stroke-width="1"/>
<text x="310.85" y="555.4000000000001" font-size="7.8" text-anchor="middle" font-weight="normal" fill="#1e1e1e"  stroke="#1e1e1e" stroke-width="0.15">25</text>
<line x1="335.6" y1="543.7" x2="335.6" y2="546.9000000000001" stroke="#2b2b2b" stroke-width="1"/>
<text x="335.6" y="555.4000000000001" font-size="7.8" text-anchor="middle" font-weight="normal" fill="#1e1e1e"  stroke="#1e1e1e" stroke-width="0.15">30</text>
<line x1="360.35" y1="543.7" x2="360.35" y2="546.9000000000001" stroke="#2b2b2b" stroke-width="1"/>
<text x="360.35" y="555.4000000000001" font-size="7.8" text-anchor="middle" font-weight="normal" fill="#1e1e1e"  stroke="#1e1e1e" stroke-width="0.15">35</text>
<text transform="translate(161.0,509.5) rotate(-90) scale(0.7,1)" x="0" y="0" font-size="8.6" letter-spacing="0.3" text-anchor="middle" fill="#1e1e1e" stroke="#1e1e1e" stroke-width="0.18">I-V latency (ms)</text>
<text transform="translate(275.85,567.6) scale(0.7,1)" x="0" y="0" font-size="8.6" letter-spacing="0.3" text-anchor="middle" fill="#1e1e1e" stroke="#1e1e1e" stroke-width="0.18">Age (months)</text>
<polyline points="187.1,511 349.2,518.1" fill="none" stroke="#5c2a84" stroke-width="1.45" stroke-linejoin="round" stroke-dasharray="3,2"/>
<polyline points="187.1,488.3 216.5,501.7 246.3,503.3 306,502.1" fill="none" stroke="#0f4c86" stroke-width="1.45" stroke-linejoin="round"/>
<circle cx="187.1" cy="488.3" r="2.2" fill="#0f4c86"/>
<circle cx="216.5" cy="501.7" r="2.2" fill="#0f4c86"/>
<circle cx="246.3" cy="503.3" r="2.2" fill="#0f4c86"/>
<circle cx="306" cy="502.1" r="2.2" fill="#0f4c86"/>
<polyline points="187.1,509.4 216.5,515.6 246.3,494" fill="none" stroke="#2aa9e0" stroke-width="1.45" stroke-linejoin="round"/>
<circle cx="187.1" cy="509.4" r="2.2" fill="#2aa9e0"/>
<circle cx="216.5" cy="515.6" r="2.2" fill="#2aa9e0"/>
<circle cx="246.3" cy="494" r="2.2" fill="#2aa9e0"/>
<polyline points="187.1,499.2 216.5,498.8 246.3,504 306,504" fill="none" stroke="#f8b31b" stroke-width="1.45" stroke-linejoin="round"/>
<circle cx="187.1" cy="499.2" r="2.2" fill="#f8b31b"/>
<circle cx="216.5" cy="498.8" r="2.2" fill="#f8b31b"/>
<circle cx="246.3" cy="504" r="2.2" fill="#f8b31b"/>
<circle cx="306" cy="504" r="2.2" fill="#f8b31b"/>
<circle cx="187.1" cy="496" r="2.2" fill="#2bb04a"/>
<polyline points="187.1,503.1 216.5,506 246.3,503.3 350.6,505" fill="none" stroke="#c70f33" stroke-width="1.45" stroke-linejoin="round"/>
<circle cx="187.1" cy="503.1" r="2.2" fill="#c70f33"/>
<circle cx="216.5" cy="506" r="2.2" fill="#c70f33"/>
<circle cx="246.3" cy="503.3" r="2.2" fill="#c70f33"/>
<circle cx="350.6" cy="505" r="2.2" fill="#c70f33"/>
<line x1="386.9" y1="478.1" x2="400.2" y2="478.1" stroke="#0f4c86" stroke-width="1.4"/>
<circle cx="393.5" cy="478.1" r="2.0" fill="#0f4c86"/>
<text x="402.9" y="480.25" font-size="6.9" text-anchor="start" font-weight="normal" fill="#1e1e1e"  stroke="#1e1e1e" stroke-width="0.12">Patient 1</text>
<line x1="386.9" y1="486.05" x2="400.2" y2="486.05" stroke="#2aa9e0" stroke-width="1.4"/>
<circle cx="393.5" cy="486.05" r="2.0" fill="#2aa9e0"/>
<text x="402.9" y="488.2" font-size="6.9" text-anchor="start" font-weight="normal" fill="#1e1e1e"  stroke="#1e1e1e" stroke-width="0.12">Patient 2</text>
<line x1="386.9" y1="494.0" x2="400.2" y2="494.0" stroke="#f8b31b" stroke-width="1.4"/>
<circle cx="393.5" cy="494.0" r="2.0" fill="#f8b31b"/>
<text x="402.9" y="496.15" font-size="6.9" text-anchor="start" font-weight="normal" fill="#1e1e1e"  stroke="#1e1e1e" stroke-width="0.12">Patient 3</text>
<line x1="386.9" y1="501.95" x2="400.2" y2="501.95" stroke="#2bb04a" stroke-width="1.4"/>
<circle cx="393.5" cy="501.95" r="2.0" fill="#2bb04a"/>
<text x="402.9" y="504.09999999999997" font-size="6.9" text-anchor="start" font-weight="normal" fill="#1e1e1e"  stroke="#1e1e1e" stroke-width="0.12">Patient 4</text>
<line x1="386.9" y1="509.9" x2="400.2" y2="509.9" stroke="#c70f33" stroke-width="1.4"/>
<circle cx="393.5" cy="509.9" r="2.0" fill="#c70f33"/>
<text x="402.9" y="512.05" font-size="6.9" text-anchor="start" font-weight="normal" fill="#1e1e1e"  stroke="#1e1e1e" stroke-width="0.12">Patient 5</text>
<line x1="386.9" y1="517.85" x2="390.0" y2="517.85" stroke="#5c2a84" stroke-width="1.3"/>
<line x1="391.84999999999997" y1="517.85" x2="394.95" y2="517.85" stroke="#5c2a84" stroke-width="1.3"/>
<line x1="396.79999999999995" y1="517.85" x2="399.9" y2="517.85" stroke="#5c2a84" stroke-width="1.3"/>
<text x="402.9" y="520.0" font-size="6.9" text-anchor="start" font-weight="normal" fill="#1e1e1e"  stroke="#1e1e1e" stroke-width="0.12">Linear (normal)</text>
<rect x="0.5" y="0.5" width="519" height="576" fill="none" stroke="#000" stroke-width="1.2"/>
</g></svg>
</body></html>
